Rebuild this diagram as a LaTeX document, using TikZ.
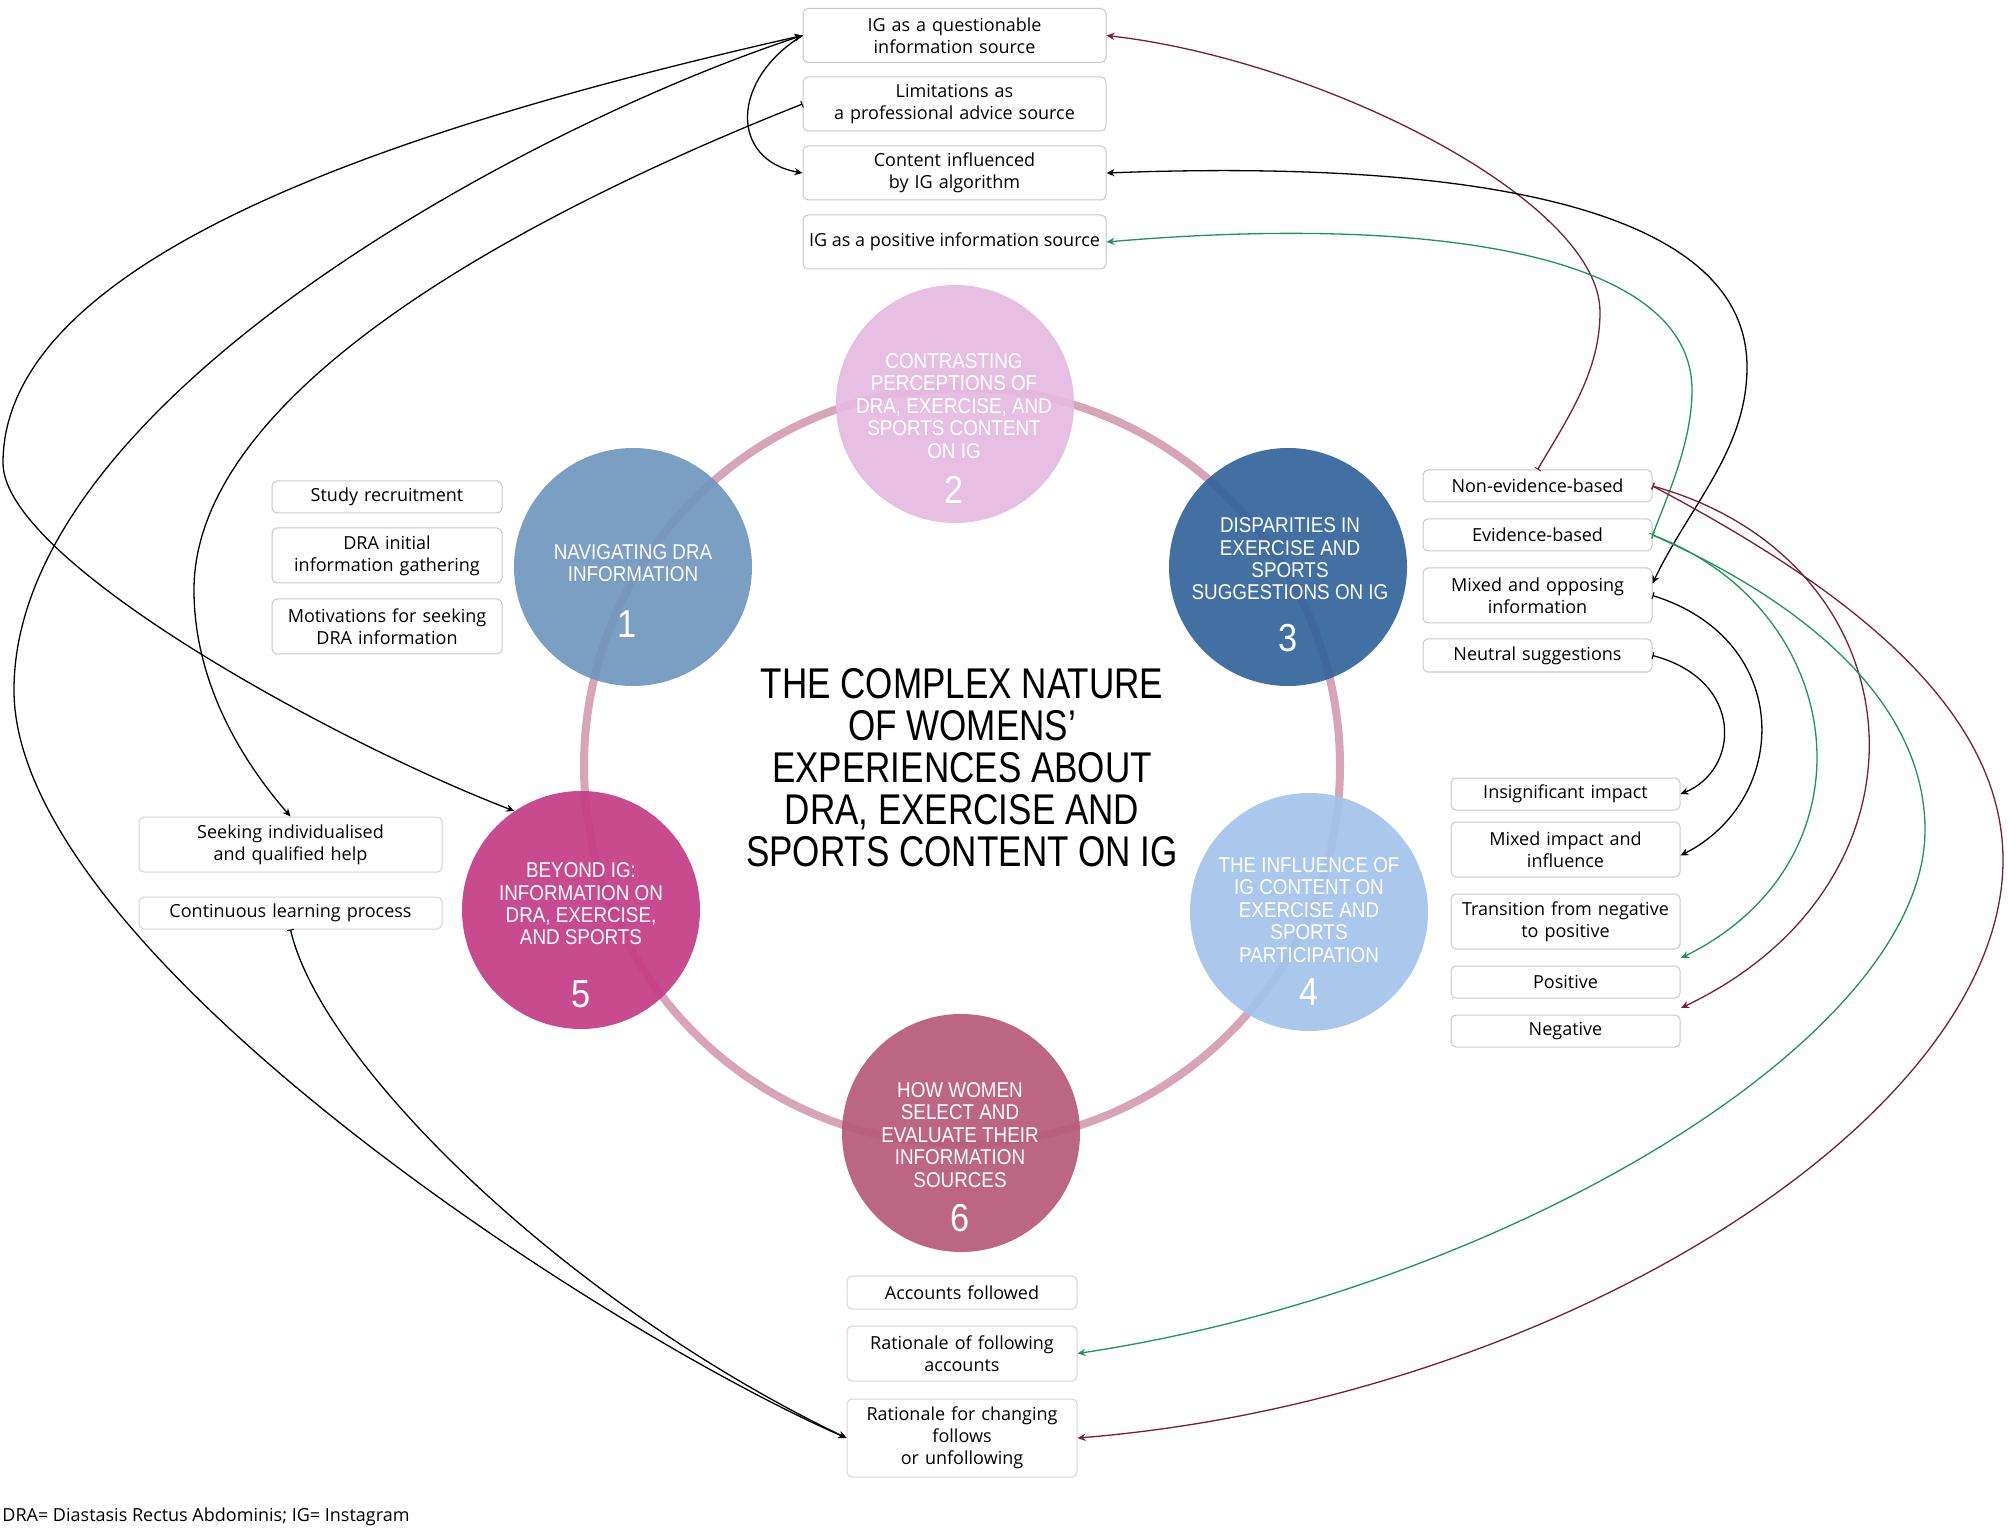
\documentclass[tikz,border=0pt]{standalone}
\usepackage{fontspec}
\setmainfont{Open Sans}
\newfontfamily\titlefont{Liberation Sans}[FakeStretch=0.815]
\newfontfamily\circfont{Liberation Sans}[FakeStretch=0.88]
\usetikzlibrary{arrows.meta}
\definecolor{ringc}{RGB}{216,164,184}
\definecolor{cA}{RGB}{112,150,190}
\definecolor{cB}{RGB}{228,186,224}
\definecolor{cC}{RGB}{50,100,155}
\definecolor{cD}{RGB}{162,196,234}
\definecolor{cE}{RGB}{196,60,135}
\definecolor{cF}{RGB}{184,90,122}
\definecolor{maroon}{RGB}{122,28,62}
\definecolor{grn}{RGB}{28,150,88}
\definecolor{boxline}{RGB}{198,200,206}
\definecolor{boxpink}{RGB}{222,206,216}
\tikzset{
  tbox/.style={draw=boxline, line width=0.5pt, rounded corners=2.5pt, fill=white,
    inner sep=0pt, align=center, text=black, font=\fontsize{9.0}{11}\selectfont},
  tb/.style 2 args={tbox, minimum width=#1, text width=#1, minimum height=#2},
  circ/.style={circle, inner sep=0pt, minimum size=119pt, draw=none, fill opacity=0.92},
  ctext/.style={align=center, text=white, font=\circfont\fontsize{10.7}{11.2}\selectfont},
  cnum/.style={text=white, font=\circfont\fontsize{19.5}{20}\selectfont},
  one/.style={line width=0.65pt, -{Stealth[length=4pt,width=3.6pt]}},
  dbl/.style={line width=0.65pt, {Stealth[length=4pt,width=3.6pt]}-{Stealth[length=4pt,width=3.6pt]}},
  tl/.style={line width=0.65pt, {Bar[width=3.5pt,line width=0.5pt]}-{Stealth[length=4pt,width=3.6pt]}},
}
\begin{document}
\begin{tikzpicture}[x=0.5pt,y=-0.5pt]
\useasboundingbox (0,0) rectangle (2008,1529);
\fill[white] (0,0) rectangle (2008,1529);

% ring
\draw[ringc, line width=4pt] (962,766) circle[radius=378];

% circles
\node[circ, fill=cA] (C1) at (633,567) {};
\node[circ, fill=cB] (C2) at (955,404) {};
\node[circ, fill=cC] (C3) at (1288,567) {};
\node[circ, fill=cD] (C4) at (1309,912) {};
\node[circ, fill=cE] (C5) at (581,910) {};
\node[circ, fill=cF] (C6) at (961,1133) {};

\node[ctext] (t1) at (633,563) {NAVIGATING DRA\\INFORMATION};
\node[cnum] (n1) at (627,624) {1};
\node[ctext] (t2) at (954,406) {CONTRASTING\\PERCEPTIONS OF\\DRA, EXERCISE, AND\\SPORTS CONTENT\\ON IG};
\node[cnum] (n2) at (954,490) {2};
\node[ctext] (t3) at (1290,559) {DISPARITIES IN\\EXERCISE AND\\SPORTS\\SUGGESTIONS ON IG};
\node[cnum] (n3) at (1288,638) {3};
\node[ctext] (t4) at (1309,910) {THE INFLUENCE OF\\IG CONTENT ON\\EXERCISE AND\\SPORTS\\PARTICIPATION};
\node[cnum] (n4) at (1309,992) {4};
\node[ctext] (t5) at (581,904) {BEYOND IG:\\INFORMATION ON\\DRA, EXERCISE,\\AND SPORTS};
\node[cnum] (n5) at (581,994) {5};
\node[ctext] (t6) at (960,1135) {HOW WOMEN\\SELECT AND\\EVALUATE THEIR\\INFORMATION\\SOURCES};
\node[cnum] (n6) at (960,1218) {6};

% title
\node[align=center, font=\titlefont\fontsize{21.5}{21}\selectfont] (title) at (962,768)
  {THE COMPLEX NATURE\\OF WOMENS’\\EXPERIENCES ABOUT\\DRA, EXERCISE AND\\SPORTS CONTENT ON IG};

% top boxes
\node[tb={151.5pt}{27pt}] (Q) at (954.5,35.5) {IG as a questionable\\information source};
\node[tb={151.5pt}{27pt}] (L) at (954.5,104) {Limitations as\\a professional advice source};
\node[tb={151.5pt}{27pt}] (C) at (954.5,173) {Content influenced\\by IG algorithm};
\node[tbox, minimum width=151.5pt, minimum height=27pt] (P) at (954.5,242) {IG as a positive information source};

% left boxes
\node[tb={115pt}{16pt}] (SR) at (387,497) {Study recruitment};
\node[tb={115pt}{27.5pt}] (DI) at (387,555.5) {DRA initial\\information gathering};
\node[tb={115pt}{27.5pt}] (MS) at (387,626.5) {Motivations for seeking\\DRA information};
\node[tb={151.5pt}{27.5pt}, draw=boxpink] (Sk) at (290.5,844.5) {Seeking individualised\\and qualified help};
\node[tb={151.5pt}{16pt}, draw=boxpink] (CL) at (290.5,913) {Continuous learning process};

% right boxes
\node[tb={114.5pt}{16pt}] (NEB) at (1537.5,486) {Non-evidence-based};
\node[tb={114.5pt}{16pt}] (EB) at (1537.5,535) {Evidence-based};
\node[tb={114.5pt}{27.5pt}] (MO) at (1537.5,595.5) {Mixed and opposing\\information};
\node[tb={114.5pt}{16.5pt}] (NS) at (1537.5,655.5) {Neutral suggestions};

\node[tb={114.5pt}{16pt}] (II) at (1565.5,794) {Insignificant impact};
\node[tb={114.5pt}{27.5pt}] (MI) at (1565.5,849.5) {Mixed impact and\\influence};
\node[tb={114.5pt}{27.5pt}] (TR) at (1565.5,921.5) {Transition from negative\\to positive};
\node[tb={114.5pt}{16pt}] (PO) at (1565.5,982) {Positive};
\node[tb={114.5pt}{16pt}] (NG) at (1565.5,1031) {Negative};

% bottom boxes
\node[tb={115pt}{16.5pt}, draw=boxpink] (AF) at (962,1292.5) {Accounts followed};
\node[tb={115pt}{27.5pt}, draw=boxpink] (Rf) at (962,1353.5) {Rationale of following\\accounts};
\node[tb={115pt}{39pt}, draw=boxpink] (RC) at (962,1438) {Rationale for changing\\follows\\or unfollowing};

% footnote
\node[anchor=west, inner sep=0pt, font=\fontsize{9.0}{11}\selectfont] (fn) at (2,1517)
  {DRA= Diastasis Rectus Abdominis; IG= Instagram};

\coordinate (tp) at (1681,958);
\coordinate (pn) at (1681,1008);

% left connectors
\draw[dbl] (Q.west) .. controls (430,120) and (3,250) .. (3,463)
  .. controls (3,560) and (330,740) .. (C5.124);
\draw[dbl] (Q.west) .. controls (530,125) and (14,400) .. (14,690)
  .. controls (14,950) and (600,1330) .. (RC.west);
\draw[one] (Q.west) .. controls (730,80) and (730,160) .. (C.west);
\draw[tl] (L.west) .. controls (560,200) and (194,380) .. (194,590)
  .. controls (194,690) and (250,770) .. (Sk.north);
\draw[tl] (CL.south) .. controls (320,1060) and (560,1300) .. (RC.west);

% right connectors
\draw[tl, maroon] (NEB.north) .. controls (1570,415) and (1600,370) .. (1600,312)
  .. controls (1600,200) and (1320,60) .. (Q.east);
\draw[dbl] ([yshift=6pt]MO.east) .. controls (1690,505) and (1747,450) .. (1747,367)
  .. controls (1747,200) and (1450,160) .. (C.east);
\draw[tl, grn] (EB.east) .. controls (1670,490) and (1692,440) .. (1692,390)
  .. controls (1692,250) and (1420,215) .. (P.east);
\draw[tl] (MO.east) .. controls (1795,640) and (1790,800) .. ([yshift=-3pt]MI.east);
\draw[tl] (NS.east) .. controls (1745,680) and (1740,770) .. (II.east);
\draw[tl, grn] (EB.east) .. controls (1850,610) and (1880,860) .. (tp);
\draw[tl, maroon] (NEB.east) .. controls (1920,560) and (1950,880) .. (pn);
\draw[tl, grn] (EB.east) .. controls (1800,600) and (1925,700) .. (1925,830)
  .. controls (1925,1040) and (1500,1290) .. (Rf.east);
\draw[tl, maroon] (NEB.east) .. controls (1830,580) and (2003,700) .. (2003,860)
  .. controls (2003,1120) and (1550,1400) .. (RC.east);
\end{tikzpicture}
\end{document}
